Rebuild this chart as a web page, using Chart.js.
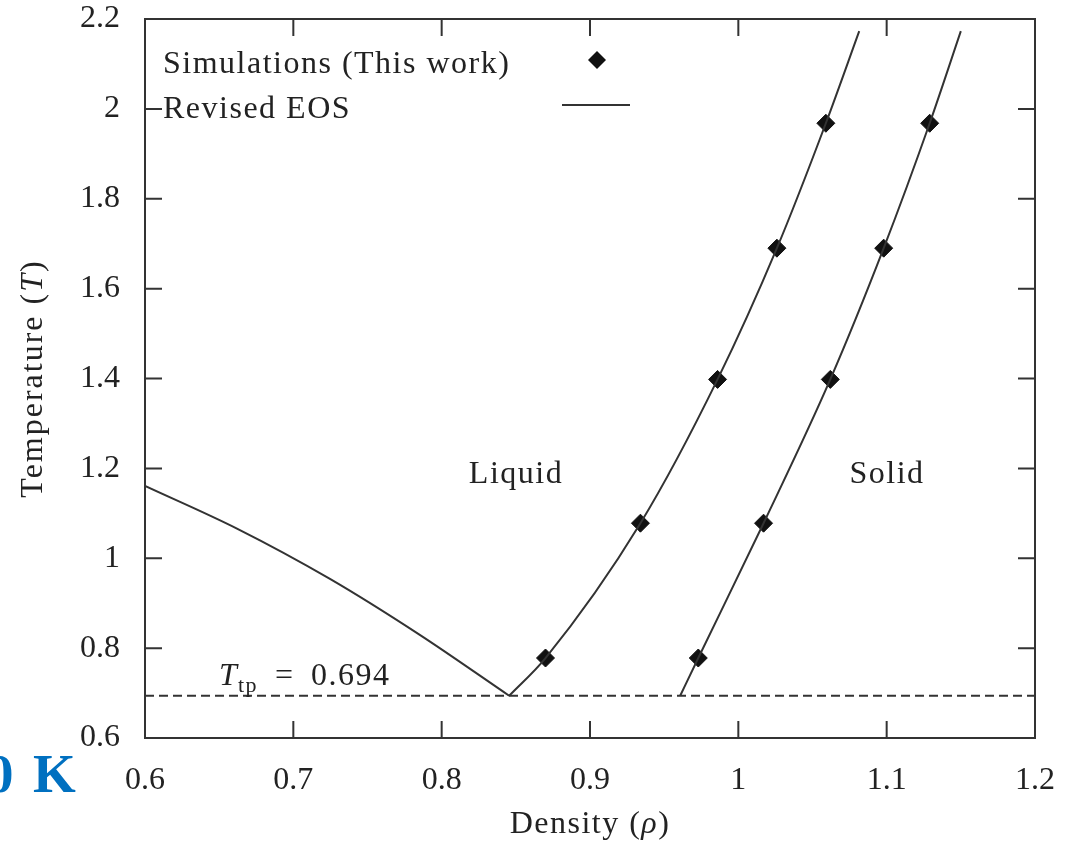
<!DOCTYPE html>
<html><head><meta charset="utf-8">
<script src="https://cdn.jsdelivr.net/npm/chart.js@4.4.0/dist/chart.umd.min.js"></script>
<style>html,body{margin:0;padding:0;background:#fff;}#wrap{width:1082px;height:844px;position:relative;}</style>
</head><body><div id="wrap"><canvas id="c" width="1082" height="844"></canvas></div>
<script>
// ---- data ----
const densityTicks = [0.6, 0.7, 0.8, 0.9, 1, 1.1, 1.2];
const temperatureTicks = [0.6, 0.8, 1, 1.2, 1.4, 1.6, 1.8, 2, 2.2];
const simT = [0.778, 1.078, 1.398, 1.690, 1.968];
const simLiquidRho = [0.870, 0.934, 0.986, 1.026, 1.059];
const simSolidRho = [0.973, 1.017, 1.062, 1.098, 1.129];
const freezeRho = [0.8455, 0.870, 0.934, 0.986, 1.026, 1.059, 1.0815];
const freezeT = [0.694, 0.778, 1.078, 1.398, 1.690, 1.968, 2.173];
const meltRho = [0.9608, 0.973, 1.017, 1.062, 1.098, 1.129, 1.150];
const meltT = [0.694, 0.778, 1.078, 1.398, 1.690, 1.968, 2.173];
const coexRho = [0.6, 0.662, 0.7247, 0.785, 0.8455];
const coexT = [1.161, 1.066, 0.954, 0.830, 0.694];
const Ttp = 0.694;
const TtpRho = [0.6, 1.2];

const pts = (xs, ys) => xs.map((v, i) => ({x: v, y: Array.isArray(ys) ? ys[i] : ys}));
const LINE = '#333333';
const SERIF = "'Liberation Serif', 'Times New Roman', serif";

function setSpacing(ctx, s) { if ('letterSpacing' in ctx) ctx.letterSpacing = s; }
function drawSegs(ctx, segs, x, y, align) {
  let w = 0;
  segs.forEach(s => { ctx.font = s[1]; w += ctx.measureText(s[0]).width; });
  let cx = align === 'center' ? x - w / 2 : x;
  ctx.textAlign = 'left';
  segs.forEach(s => { ctx.font = s[1]; ctx.fillText(s[0], cx, y + (s[2] || 0)); cx += ctx.measureText(s[0]).width; });
}

const deco = {
  id: 'deco',
  afterDraw(chart) {
    const {ctx, chartArea: a, scales: {x, y}} = chart;
    ctx.save();
    ctx.strokeStyle = '#333'; ctx.lineWidth = 2;
    ctx.strokeRect(a.left, a.top, a.right - a.left, a.bottom - a.top);
    const tl = 17;
    ctx.beginPath();
    densityTicks.forEach(v => {
      const px = x.getPixelForValue(v);
      if (px <= a.left + 1 || px >= a.right - 1) return;
      ctx.moveTo(px, a.bottom); ctx.lineTo(px, a.bottom - tl);
      ctx.moveTo(px, a.top); ctx.lineTo(px, a.top + tl);
    });
    temperatureTicks.forEach(v => {
      const py = y.getPixelForValue(v);
      if (py <= a.top + 1 || py >= a.bottom - 1) return;
      ctx.moveTo(a.left, py); ctx.lineTo(a.left + tl, py);
      ctx.moveTo(a.right, py); ctx.lineTo(a.right - tl, py);
    });
    ctx.stroke();

    ctx.fillStyle = '#222';
    ctx.textBaseline = 'alphabetic';
    setSpacing(ctx, '1.5px');
    const F = '32px ' + SERIF, FI = 'italic 32px ' + SERIF;

    // legend
    drawSegs(ctx, [['Simulations (This work)', F]], 163, 73, 'left');
    drawSegs(ctx, [['Revised EOS', F]], 163, 118, 'left');
    ctx.fillStyle = '#111';
    ctx.beginPath(); ctx.moveTo(597, 51); ctx.lineTo(606, 60); ctx.lineTo(597, 69); ctx.lineTo(588, 60); ctx.closePath(); ctx.fill();
    ctx.strokeStyle = LINE; ctx.lineWidth = 2;
    ctx.beginPath(); ctx.moveTo(562, 105); ctx.lineTo(630, 105); ctx.stroke();

    ctx.fillStyle = '#222';
    drawSegs(ctx, [['Liquid', F]], 516, 483, 'center');
    drawSegs(ctx, [['Solid', F]], 887, 483, 'center');

    // T_tp label
    ctx.font = FI; ctx.textAlign = 'left';
    ctx.fillText('T', 219, 685);
    ctx.font = '22px ' + SERIF;
    ctx.fillText('tp', 238, 692);
    ctx.font = F;
    ctx.fillText('=', 275, 685);
    ctx.fillText('0.694', 311, 685);

    // x title
    drawSegs(ctx, [['Density (', F], ['\u03c1', FI], [')', F]], (a.left + a.right) / 2, 833, 'center');

    // y title
    ctx.save();
    ctx.translate(42, (a.top + a.bottom) / 2);
    ctx.rotate(-Math.PI / 2);
    setSpacing(ctx, '2px');
    drawSegs(ctx, [['Temperature (', F], ['T', FI], [')', F]], 0, 0, 'center');
    ctx.restore();

    // blue "0 K" fragment
    setSpacing(ctx, '0px');
    ctx.fillStyle = '#0070c0';
    ctx.font = 'bold 55px ' + SERIF;
    ctx.fillText('0', -14, 792);
    ctx.fillText('K', 33, 792);
    ctx.restore();
  }
};

const lineDs = (data, extra) => Object.assign({
  data, showLine: true, pointRadius: 0, borderColor: LINE, borderWidth: 2,
  cubicInterpolationMode: 'monotone', fill: false
}, extra || {});
const pointDs = (data) => ({
  data, showLine: false, pointStyle: 'rectRot', pointRadius: 9,
  backgroundColor: '#111', borderColor: '#111', borderWidth: 1
});

const tickFont = {family: SERIF, size: 32};
new Chart(document.getElementById('c'), {
  type: 'scatter',
  data: {
    datasets: [
      lineDs(pts(TtpRho, Ttp), {borderDash: [9, 5], cubicInterpolationMode: 'default', tension: 0, borderWidth: 2}),
      lineDs(pts(coexRho, coexT)),
      lineDs(pts(freezeRho, freezeT)),
      lineDs(pts(meltRho, meltT)),
      pointDs(pts(simLiquidRho, simT)),
      pointDs(pts(simSolidRho, simT))
    ]
  },
  options: {
    responsive: false, animation: false, devicePixelRatio: 1,
    layout: {padding: {left: 0, top: 19, right: 47, bottom: 0}},
    plugins: {legend: {display: false}, tooltip: {enabled: false}},
    scales: {
      x: {
        type: 'linear', min: 0.6, max: 1.2,
        afterBuildTicks: s => { s.ticks = densityTicks.map(v => ({value: v})); },
        afterFit: s => { s.height = 106; s.paddingLeft = 0; s.paddingRight = 0; },
        grid: {display: false}, border: {display: false},
        ticks: {padding: 15, color: '#222', font: tickFont, maxRotation: 0, autoSkip: false, callback: v => String(v)}
      },
      y: {
        type: 'linear', min: 0.6, max: 2.2,
        afterBuildTicks: s => { s.ticks = temperatureTicks.map(v => ({value: v})); },
        afterFit: s => { s.width = 145; s.paddingTop = 0; s.paddingBottom = 0; },
        grid: {display: false}, border: {display: false},
        ticks: {padding: 17, color: '#222', font: tickFont, autoSkip: false, callback: v => String(v)}
      }
    }
  },
  plugins: [deco]
});
</script></body></html>
